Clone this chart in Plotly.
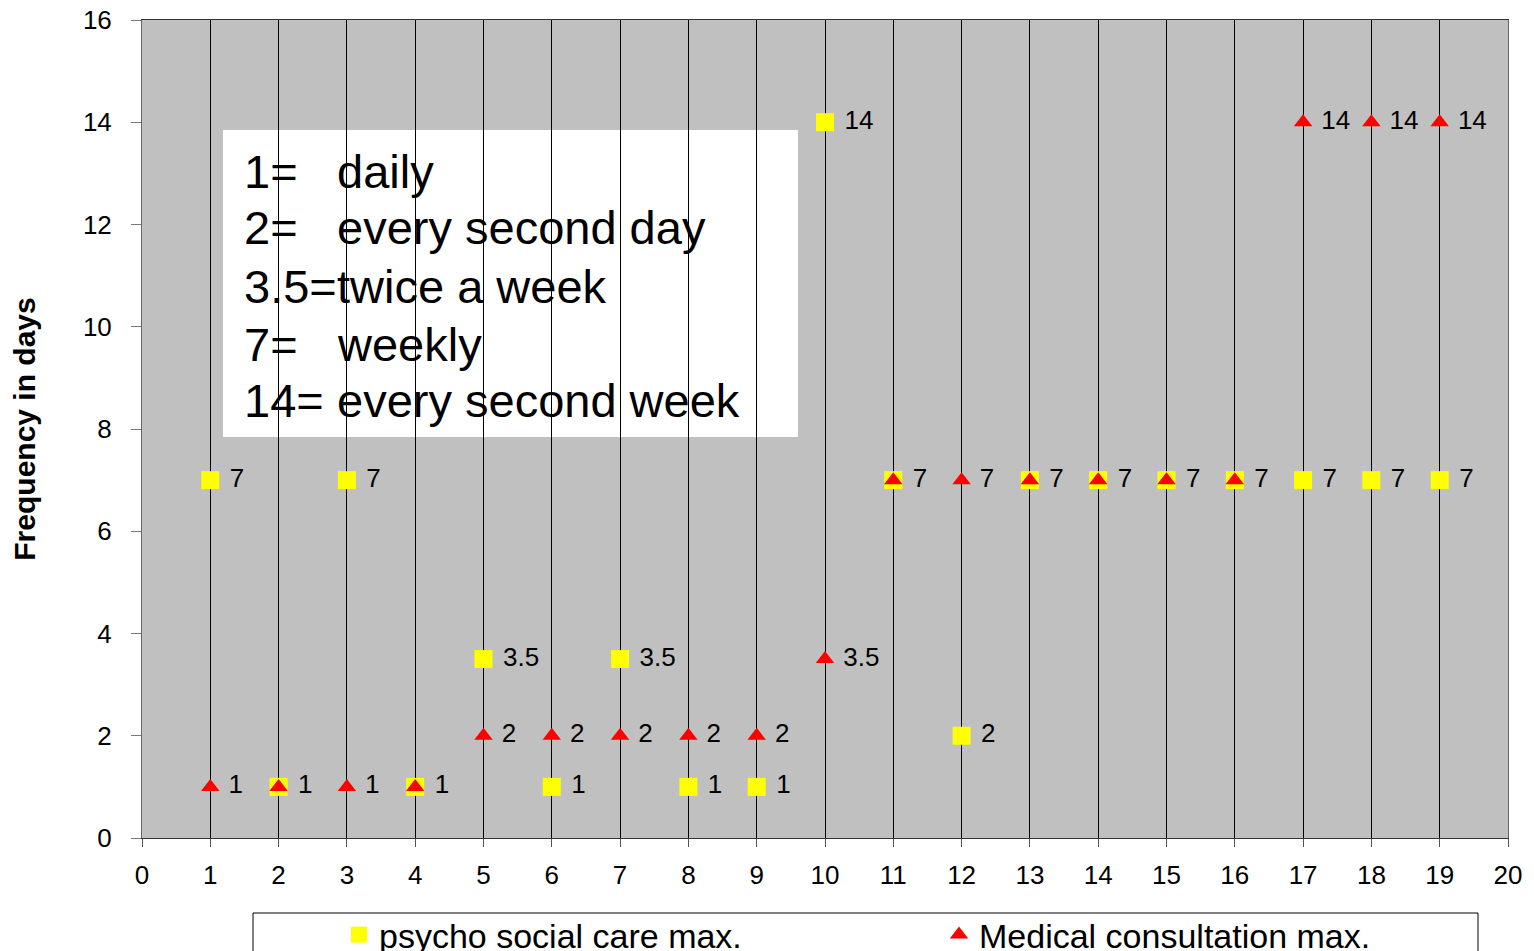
import plotly.graph_objects as go

categories = list(range(1, 20))
psycho_values = [7, 1, 7, 1, 3.5, 1, 3.5, 1, 1, 14, 7, 2, 7, 7, 7, 7, 7, 7, 7]
medical_values = [1, 1, 1, 1, 2, 2, 2, 2, 2, 3.5, 7, 7, 7, 7, 7, 7, 14, 14, 14]
y_ticks = [0, 2, 4, 6, 8, 10, 12, 14, 16]
x_ticks = list(range(0, 21))
legend_left = ["1=", "2=", "3.5=", "7=", "14="]
legend_right = ["daily", "every second day", "twice a week", "weekly", "every second week"]

def fmt(v):
    return str(int(v)) if float(v).is_integer() else str(v)

psycho_text = [" " + fmt(v) for v in psycho_values]
# a shared label is drawn only once where both series coincide
medical_text = ["" if m == p else " " + fmt(m) for m, p in zip(medical_values, psycho_values)]

FONT = "Arial"
OFF = 8  # default page body margin
# plot area in page pixels: x 142..1508, y 20..838
L, T = 142 - OFF, 20 - OFF
PW, PH = 1366, 818
W, H = 1534 - OFF, 951 - OFF
R, B = W - L - PW, H - T - PH

def px(xp):
    return (xp - 142) / PW

def py(yp):
    return (838 - yp) / PH

fig = go.Figure()
fig.add_trace(go.Scatter(
    x=categories, y=psycho_values, mode="markers+text",
    name="psycho social care max.", legend="legend",
    marker=dict(symbol="square", size=18, color="#FFFF00"),
    text=psycho_text, textposition="middle right",
    textfont=dict(family=FONT, size=26, color="black"),
    cliponaxis=False,
))
fig.add_trace(go.Scatter(
    x=categories, y=medical_values, mode="markers+text",
    name="Medical consultation max.", legend="legend2",
    marker=dict(symbol="triangle-up", size=16, color="#FF0000"),
    text=medical_text, textposition="middle right",
    textfont=dict(family=FONT, size=26, color="black"),
    cliponaxis=False,
))

# white info box
fig.add_shape(type="rect", xref="paper", yref="paper",
              x0=px(223), x1=px(798), y0=py(437), y1=py(130),
              fillcolor="white", line=dict(width=0), layer="below")
line_centers = [171, 228, 286, 344, 400]
for yc, lt, rt in zip(line_centers, legend_left, legend_right):
    fig.add_annotation(xref="paper", yref="paper", x=px(242), y=py(yc),
                       xanchor="left", yanchor="middle", align="left", showarrow=False,
                       text=lt, font=dict(family=FONT, size=47, color="black"))
    fig.add_annotation(xref="paper", yref="paper", x=px(335), y=py(yc),
                       xanchor="left", yanchor="middle", align="left", showarrow=False,
                       text=rt, font=dict(family=FONT, size=47, color="black"))

# legend frame
fig.add_shape(type="rect", xref="paper", yref="paper",
              x0=px(253), x1=px(1478), y0=py(990), y1=py(913),
              fillcolor="rgba(0,0,0,0)", line=dict(color="black", width=1))

leg_common = dict(font=dict(family=FONT, size=34, color="black"),
                  bgcolor="rgba(0,0,0,0)", xanchor="left", yanchor="top",
                  orientation="h", itemsizing="trace")

fig.update_layout(
    width=W, height=H,
    margin=dict(l=L, r=R, t=T, b=B, autoexpand=False),
    paper_bgcolor="white", plot_bgcolor="#C0C0C0",
    font=dict(family=FONT, size=26, color="black"),
    showlegend=True,
    legend=dict(x=px(339), y=py(906), **leg_common),
    legend2=dict(x=px(939), y=py(906), **leg_common),
    xaxis=dict(range=[0, 20], tickvals=x_ticks, showgrid=True, gridcolor="black", gridwidth=1,
               zeroline=False, showline=True, linecolor="#333333", linewidth=1, mirror=True,
               ticks="outside", ticklen=8, tickcolor="#555555", automargin=False,
               ticklabelstandoff=6, ticklabeloverflow="allow",
               tickfont=dict(family=FONT, size=26, color="black")),
    yaxis=dict(range=[0, 16], tickvals=y_ticks, showgrid=False, zeroline=False,
               showline=True, linecolor="#666666", linewidth=1, mirror=True,
               ticks="outside", ticklen=10, tickcolor="#777777", automargin=False,
               ticklabelstandoff=14, ticklabeloverflow="allow",
               tickfont=dict(family=FONT, size=26, color="black"),
               title=dict(text="<b>Frequency in days</b>", standoff=38,
                          font=dict(family=FONT, size=30, color="black"))),
)

fig.write_html("out.html")
